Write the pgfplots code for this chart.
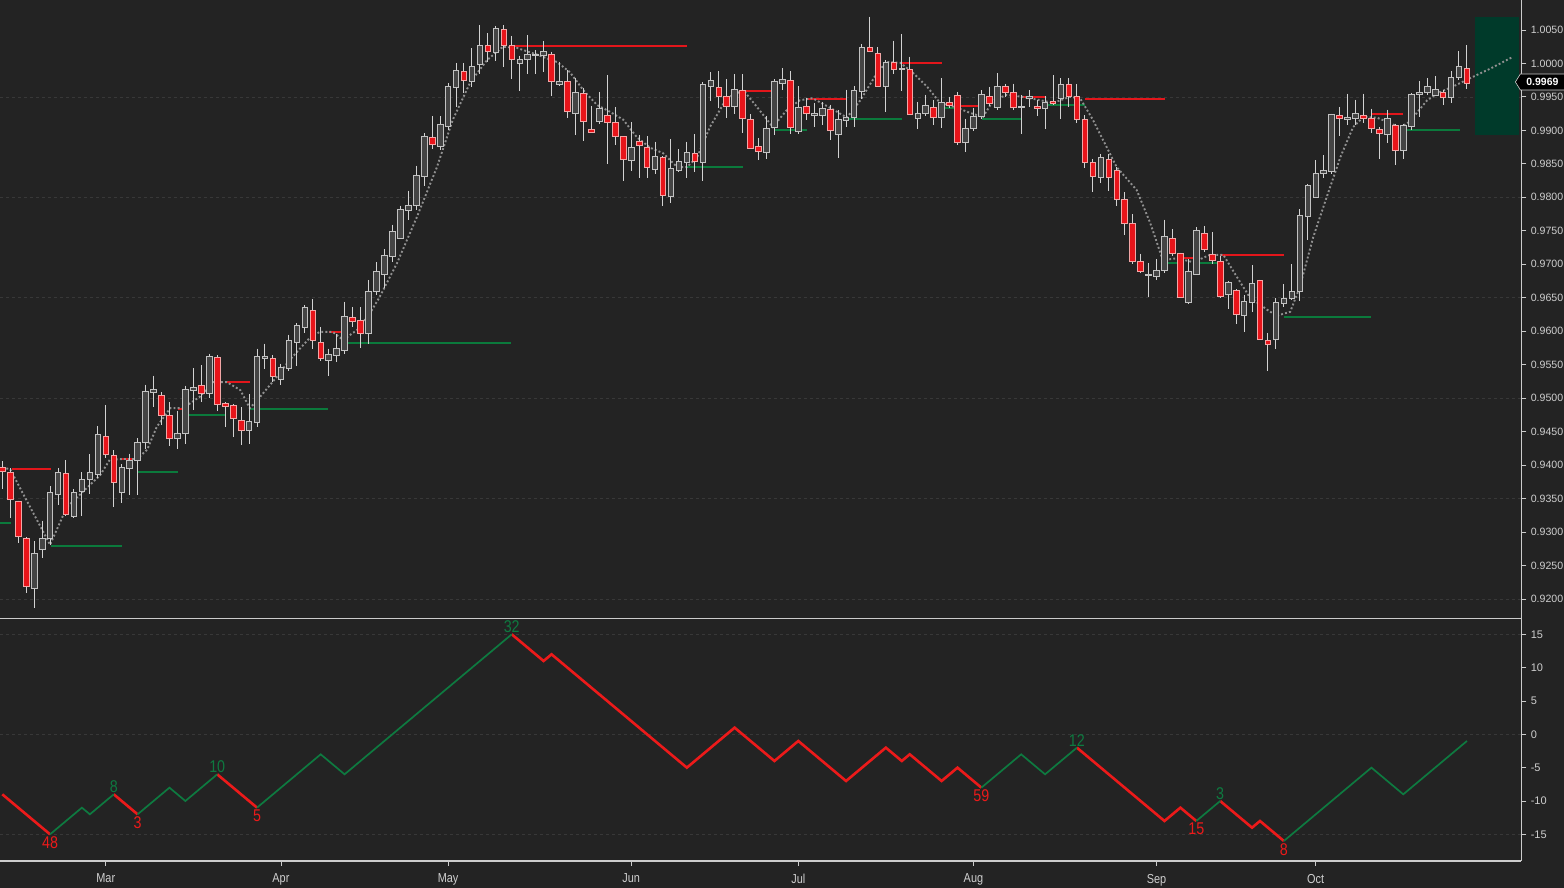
\documentclass[border=0pt]{standalone}
\usepackage{fontspec}
\setmainfont{Liberation Sans}
\newfontfamily\narrowfont[FakeStretch=0.84]{Liberation Sans}
\usepackage{pgfplots}
\usepackage{pgfplotstable}
\pgfplotsset{compat=1.18}
\usetikzlibrary{shapes.symbols}

\definecolor{BG}{HTML}{232323}
\definecolor{GridGrey}{HTML}{383838}
\definecolor{AxisGrey}{HTML}{CCCCCC}
\definecolor{TickGrey}{HTML}{CFCFCF}
\definecolor{WickGrey}{HTML}{D2D2D2}
\definecolor{UpFill}{HTML}{444444}
\definecolor{UpEdge}{HTML}{C2C2C2}
\definecolor{DnFill}{HTML}{E8141A}
\definecolor{DnEdge}{HTML}{F2A6A6}
\definecolor{ResRed}{HTML}{E3161B}
\definecolor{SupGreen}{HTML}{0B7A3C}
\definecolor{DotGrey}{HTML}{909090}
\definecolor{BoxGreen}{HTML}{003A2A}
\definecolor{ZzRed}{HTML}{EC1A1A}
\definecolor{ZzGreen}{HTML}{0E7A40}

\pgfdeclareplotmark{nothing}{}

% daily candles: index, open, high, low, close
\pgfplotstableread{
i o h l c
0 0.9396 0.9406 0.93635 0.9391
1 0.93885 0.9395 0.9321 0.93485
2 0.9345 0.9347 0.92835 0.92935
3 0.9291 0.9292 0.92085 0.92185
4 0.9216 0.9286 0.9186 0.92685
5 0.92735 0.9317 0.9261 0.929
6 0.929 0.93685 0.9281 0.93585
7 0.9356 0.9395 0.9341 0.93885
8 0.9387 0.94075 0.93235 0.9327
9 0.93235 0.93635 0.9321 0.93585
10 0.9361 0.93895 0.93235 0.93785
11 0.93785 0.9416 0.9357 0.93885
12 0.9386 0.94585 0.9381 0.9445
13 0.94425 0.949 0.9411 0.9416
14 0.94145 0.9422 0.93375 0.93735
15 0.93585 0.9401 0.93435 0.9397
16 0.9395 0.9417 0.9356 0.9407
17 0.9407 0.944 0.9356 0.9434
18 0.9434 0.952 0.94235 0.951
19 0.95085 0.95335 0.94875 0.95135
20 0.95045 0.95085 0.94595 0.9475
21 0.94745 0.94935 0.94285 0.944
22 0.944 0.9481 0.94235 0.94475
23 0.94475 0.95185 0.9432 0.95135
24 0.95115 0.9545 0.94815 0.95165
25 0.9519 0.9549 0.9494 0.95065
26 0.95065 0.95665 0.95 0.9563
27 0.95615 0.9564 0.94815 0.94915
28 0.9492 0.9494 0.94565 0.9488
29 0.9489 0.94915 0.94415 0.9469
30 0.94665 0.94865 0.943 0.94515
31 0.94515 0.95065 0.94315 0.94655
32 0.9463 0.9574 0.94565 0.9563
33 0.956 0.95815 0.9544 0.95625
34 0.956 0.9564 0.9524 0.95325
35 0.9528 0.95515 0.9519 0.95455
36 0.9544 0.9595 0.954 0.95865
37 0.9583 0.96115 0.9548 0.9608
38 0.96055 0.9639 0.95965 0.9635
39 0.96315 0.9648 0.9574 0.95865
40 0.95825 0.96065 0.9555 0.9559
41 0.95565 0.9574 0.95325 0.95655
42 0.9564 0.95965 0.9554 0.9575
43 0.95715 0.9644 0.95665 0.96215
44 0.962 0.96365 0.96065 0.9615
45 0.96165 0.96365 0.9575 0.95965
46 0.95965 0.96765 0.95815 0.966
47 0.966 0.9703 0.9654 0.969
48 0.9685 0.97225 0.9665 0.97125
49 0.97115 0.9759 0.9704 0.97485
50 0.9739 0.97875 0.9737 0.97825
51 0.9781 0.981 0.97665 0.97885
52 0.97885 0.98475 0.97815 0.98325
53 0.98315 0.9896 0.98165 0.9891
54 0.9889 0.9921 0.98715 0.98785
55 0.98765 0.9921 0.987 0.9909
56 0.99065 0.9971 0.99 0.9966
57 0.99635 1.0001 0.9935 0.999
58 0.99885 1.0001 0.9956 0.9974
59 0.99725 1.00225 0.9965 0.9996
60 0.9999 1.00575 0.9984 1.00275
61 1.00275 1.0045 1.00025 1.00175
62 1.00165 1.0056 1.00035 1.00515
63 1.0051 1.00575 0.9995 1.00265
64 1.00265 1.0041 0.99765 1.0006
65 1.0 1.00115 0.9959 1.00065
66 1.0006 1.00425 0.9984 1.0014
67 1.0013 1.002 0.9984 1.0014
68 1.00115 1.00335 0.99875 1.00175
69 1.0014 1.00175 0.99515 0.99725
70 0.99685 1.00025 0.9966 0.99735
71 0.99735 0.999 0.99185 0.99275
72 0.9925 0.99775 0.9893 0.99575
73 0.99555 0.9964 0.9884 0.9913
74 0.99015 0.99365 0.9896 0.98965
75 0.9914 0.99575 0.991 0.9933
76 0.9923 0.9983 0.985 0.99115
77 0.99125 0.9935 0.9878 0.98905
78 0.98905 0.98915 0.9824 0.98565
79 0.9855 0.99125 0.984 0.9875
80 0.9884 0.98925 0.9829 0.98775
81 0.9874 0.98915 0.9829 0.9844
82 0.98415 0.9883 0.9835 0.9861
83 0.986 0.98615 0.97875 0.9803
84 0.98015 0.98865 0.97915 0.9843
85 0.984 0.98715 0.98375 0.9853
86 0.98515 0.9883 0.9829 0.98675
87 0.98655 0.9894 0.9838 0.9854
88 0.98515 0.99715 0.9825 0.9969
89 0.99655 0.99875 0.9944 0.9974
90 0.9964 0.9989 0.9934 0.99505
91 0.99505 0.99765 0.9918 0.99365
92 0.99355 0.9984 0.9925 0.99615
93 0.9959 0.9984 0.98965 0.99175
94 0.99165 0.9924 0.9872 0.9873
95 0.98755 0.9888 0.9855 0.9869
96 0.98665 0.99215 0.9858 0.9903
97 0.9905 0.9976 0.98925 0.99725
98 0.997 0.99925 0.996 0.9976
99 0.9975 0.99885 0.9894 0.9904
100 0.9899 0.9966 0.9894 0.9935
101 0.9935 0.99485 0.9915 0.9925
102 0.9923 0.9941 0.9905 0.9925
103 0.99225 0.99425 0.99075 0.99325
104 0.99315 0.99385 0.9885 0.99
105 0.98935 0.993 0.9859 0.9916
106 0.9915 0.9961 0.9905 0.9919
107 0.9919 0.9966 0.9905 0.996
108 0.9959 1.00285 0.99475 1.0024
109 1.00235 1.007 1.00165 1.00175
110 1.0015 1.0024 0.9964 0.9966
111 0.9965 1.0005 0.99275 1.00015
112 1.00015 1.0034 0.99835 0.9991
113 0.9991 1.0044 0.99585 0.99925
114 0.9991 1.001 0.99225 0.99235
115 0.99175 0.99425 0.99025 0.9925
116 0.9925 0.99535 0.9921 0.99375
117 0.9935 0.9945 0.99075 0.9919
118 0.9919 0.99775 0.9904 0.99415
119 0.99415 0.995 0.9934 0.99365
120 0.99515 0.99575 0.98785 0.98825
121 0.98825 0.99175 0.98675 0.99025
122 0.99025 0.9934 0.9899 0.9921
123 0.9921 0.996 0.99175 0.99535
124 0.99515 0.9965 0.9936 0.994
125 0.9935 0.9985 0.9931 0.9966
126 0.9966 0.9969 0.995 0.99575
127 0.9956 0.997 0.993 0.9934
128 0.9934 0.99525 0.9895 0.99365
129 0.99485 0.996 0.9935 0.9951
130 0.9936 0.9946 0.9921 0.99325
131 0.99325 0.9951 0.99025 0.99425
132 0.99435 0.99825 0.99375 0.994
133 0.99475 0.99775 0.99175 0.9969
134 0.9969 0.99775 0.9935 0.9951
135 0.9951 0.9969 0.9911 0.9916
136 0.9916 0.99225 0.9844 0.98515
137 0.98515 0.98575 0.98075 0.98315
138 0.983 0.9865 0.9821 0.9859
139 0.9856 0.9865 0.981 0.983
140 0.984 0.9845 0.97875 0.97975
141 0.97975 0.98075 0.9744 0.9761
142 0.97615 0.9775 0.9701 0.9704
143 0.9704 0.9716 0.96865 0.969
144 0.96835 0.97015 0.9651 0.9685
145 0.96815 0.97075 0.9677 0.96915
146 0.96915 0.97665 0.96875 0.97415
147 0.97385 0.97525 0.97125 0.97165
148 0.97165 0.97175 0.9649 0.9651
149 0.96435 0.97075 0.964 0.96885
150 0.9685 0.9755 0.96835 0.975
151 0.9746 0.97575 0.9719 0.97225
152 0.9715 0.97485 0.97 0.9706
153 0.9704 0.97125 0.9649 0.96525
154 0.9655 0.9675 0.96335 0.96735
155 0.9661 0.96625 0.9611 0.9625
156 0.96235 0.9654 0.9599 0.9645
157 0.96435 0.96985 0.96285 0.96715
158 0.9676 0.9677 0.9587 0.95875
159 0.9586 0.95975 0.954 0.958
160 0.95885 0.9649 0.95735 0.96425
161 0.96415 0.967 0.9636 0.9649
162 0.9649 0.97 0.9646 0.9659
163 0.9659 0.97825 0.9645 0.97725
164 0.97715 0.982 0.9736 0.98175
165 0.98 0.9855 0.9799 0.9835
166 0.9835 0.98625 0.98285 0.984
167 0.98385 0.9925 0.9835 0.9924
168 0.9923 0.9935 0.9891 0.99185
169 0.99175 0.9955 0.99075 0.9919
170 0.99175 0.9946 0.99075 0.9925
171 0.99225 0.9955 0.9911 0.99185
172 0.99185 0.99325 0.9896 0.99025
173 0.9901 0.9905 0.98575 0.9895
174 0.98935 0.9931 0.98815 0.99175
175 0.99075 0.991 0.98485 0.987
176 0.987 0.991 0.98575 0.99075
177 0.9906 0.9956 0.99 0.99535
178 0.99535 0.9974 0.992 0.99565
179 0.99565 0.99775 0.99525 0.9965
180 0.99525 0.9981 0.9951 0.9961
181 0.99575 0.996 0.99375 0.9949
182 0.9949 0.99885 0.9941 0.9979
183 0.9979 1.00185 0.9975 0.9995
184 0.99925 1.00275 0.99625 0.99695
}\ohlc

% dotted swing curve
\pgfplotstableread{
i p
0 0.9396
0.97 0.9394
6.0 0.9281
8.1 0.9337
12.3 0.9385
13.5 0.9408
15.2 0.9409
16.9 0.9409
18.2 0.9423
19.4 0.9457
21.1 0.9485
22.7 0.9485
24.8 0.9502
26.5 0.9524
28.2 0.9524
29.9 0.9512
31.1 0.9485
32.4 0.9502
34.5 0.9532
36.1 0.9557
38.7 0.9591
39.9 0.9599
41.5 0.9599
42.8 0.9587
44.6 0.9602
46.2 0.9627
47.4 0.9651
49.6 0.9702
52.1 0.9771
54.6 0.9845
56.6 0.9916
58.8 0.9972
60.9 1.0005
62.9 1.0025
64.7 1.0023
67.2 1.0013
69.7 1.0002
71.3 0.9987
73.0 0.9960
74.7 0.9938
76.3 0.9928
78.0 0.9916
79.7 0.9890
81.4 0.9874
83.0 0.9866
84.8 0.9845
86.0 0.9845
87.3 0.9860
88.9 0.9905
91.0 0.9948
93.1 0.9960
94.8 0.9935
96.8 0.9905
98.6 0.9931
100.2 0.9945
101.8 0.9948
104.4 0.9931
106.1 0.9919
107.8 0.9945
109.9 0.9986
111.1 1.0002
112.8 1.0001
114.4 0.9986
116.2 0.9965
117.8 0.9941
119.9 0.9934
121.6 0.9926
123.2 0.9920
124.5 0.9945
126.2 0.9953
128.2 0.9950
130.4 0.9945
132.0 0.9941
134.1 0.9950
135.4 0.9948
137.0 0.9916
140.0 0.9845
142.5 0.9811
144.2 0.9762
145.8 0.9706
147.6 0.9709
149.6 0.9703
151.7 0.9714
153.4 0.9714
155.1 0.9681
156.7 0.9651
158.9 0.9632
160.1 0.9623
161.8 0.9629
163.0 0.9666
164.7 0.9741
166.4 0.9801
168.1 0.9860
169.7 0.9905
171.0 0.9920
172.7 0.9919
174.3 0.9911
175.6 0.9904
176.8 0.9913
179.0 0.9945
180.6 0.9957
182.7 0.9968
184.4 0.9978
186.9 0.9992
189.8 1.0010
}\swing

\begin{document}
\begin{tikzpicture}
\useasboundingbox (0pt,0pt) rectangle (1564pt,888pt);
\fill[BG] (0pt,0pt) rectangle (1564pt,888pt);
\clip (0pt,0pt) rectangle (1564pt,888pt);

% ---------- price panel ----------
\begin{axis}[
  at={(0pt,269.7pt)}, anchor=south west,
  x=7.96pt, y=6694pt,
  xmin=-0.289, xmax=190.85,
  ymin=0.91711, ymax=1.00948,
  axis x line*=bottom, axis y line*=right,
  axis line style={-, AxisGrey, line width=1.3pt},
  xtick=\empty,
  ytick={0.92,0.925,0.93,0.935,0.94,0.945,0.95,0.955,0.96,0.965,0.97,0.975,0.98,0.985,0.99,0.995,1.0,1.005},
  scaled y ticks=false,
  /pgf/number format/assume math mode=true,
  yticklabel={\pgfmathprintnumber[fixed,fixed zerofill,precision=4]{\tick}},
  yticklabel style={font=\fontsize{10.6}{12}\selectfont, text=TickGrey, anchor=west, xshift=0.8pt},
  tick align=outside, major tick length=5pt,
  tick style={AxisGrey, line width=0.8pt},
  extra y ticks={0.92,0.935,0.95,0.965,0.98,0.995},
  extra y tick labels={},
  extra y tick style={grid=major, major tick length=0pt},
  major grid style={GridGrey, dash pattern=on 3pt off 3pt, line width=0.7pt},
  clip=false,
]
\addplot[fill=BoxGreen, draw=none] coordinates {(185.0,1.00699) (190.6,1.00699) (190.6,0.98931) (185.0,0.98931)} -- cycle;

\addplot[scatter, only marks, mark=nothing,
  visualization depends on={\thisrow{o} \as \op},
  visualization depends on={\thisrow{h} \as \hi},
  visualization depends on={\thisrow{l} \as \lo},
  visualization depends on={\thisrow{c} \as \cl},
  scatter/@pre marker code/.code={%
    \pgfmathsetmacro\wl{(\hi-\lo)*6694}%
    \pgfmathsetmacro\bt{(\hi-max(\op,\cl))*6694}%
    \pgfmathsetmacro\bb{max((\hi-min(\op,\cl))*6694,\bt+1.4)}%
    \draw[WickGrey, line width=1pt] (0pt,0pt) -- (0pt,-\wl pt);
    \ifdim\op pt>\cl pt
      \filldraw[fill=DnFill, draw=DnEdge, line width=0.8pt] (-2.8pt,-\bt pt) rectangle (2.8pt,-\bb pt);
    \else
      \filldraw[fill=UpFill, draw=UpEdge, line width=0.8pt] (-2.8pt,-\bt pt) rectangle (2.8pt,-\bb pt);
    \fi
  },
  scatter/@post marker code/.code={},
] table[x=i, y=h] {\ohlc};

% resistance levels
\addplot[ResRed, line width=2pt, unbounded coords=jump] coordinates {
 (1.2,0.93945)(6.1,0.93945)(6.1,nan)
 (15,0.94091)(17,0.94091)(17,nan)
 (22.1,0.94838)(23,0.94838)(23,nan)
 (28.1,0.95246)(31.1,0.95246)(31.1,nan)
 (41,0.95993)(43,0.95993)(43,nan)
 (64,1.00265)(86,1.00265)(86,nan)
 (93,0.99593)(97.1,0.99593)(97.1,nan)
 (101.2,0.99465)(106.1,0.99465)(106.1,nan)
 (113,1.00002)(118,1.00002)(118,nan)
 (120.1,0.99369)(123.1,0.99369)(123.1,nan)
 (128.2,0.99504)(131,0.99504)(131,nan)
 (136,0.99469)(146.1,0.99469)(146.1,nan)
 (148,0.97089)(150.1,0.97089)(150.1,nan)
 (153,0.97139)(161,0.97139)(161,nan)
 (172,0.99245)(176,0.99245)};
% support levels
\addplot[SupGreen, line width=2pt, unbounded coords=jump] coordinates {
 (-0.3,0.93135)(1.1,0.93135)(1.1,nan)
 (6.1,0.92796)(15,0.92796)(15,nan)
 (17,0.93902)(22.1,0.93902)(22.1,nan)
 (23,0.94753)(28.1,0.94753)(28.1,nan)
 (31.1,0.94843)(40.9,0.94843)(40.9,nan)
 (43,0.95824)(63.9,0.95824)(63.9,nan)
 (86,0.98458)(93,0.98458)(93,nan)
 (97.1,0.99006)(101.1,0.99006)(101.1,nan)
 (106.1,0.99175)(113,0.99175)(113,nan)
 (118,0.99339)(120.1,0.99339)(120.1,nan)
 (123.1,0.99175)(128.1,0.99175)(128.1,nan)
 (131.2,0.9938)(136,0.9938)(136,nan)
 (146.1,0.97024)(148,0.97024)(148,nan)
 (150.1,0.97024)(153,0.97024)(153,nan)
 (161,0.96217)(172,0.96217)(172,nan)
 (176,0.99)(183.1,0.99)};

\addplot[DotGrey, line width=1.9pt, dash pattern=on 1.9pt off 2.2pt] table[x=i, y=p] {\swing};

\node[signal, signal to=west, signal pointer angle=116, fill=black, draw=AxisGrey,
  line width=0.6pt, text=white, font=\bfseries\fontsize{10.5}{11}\selectfont,
  inner xsep=6pt, inner ysep=2pt, minimum height=16pt, anchor=west]
  at (axis cs:190.04,0.99723) {0.9969};
\end{axis}

% ---------- swing counter panel ----------
\begin{axis}[
  at={(0pt,27pt)}, anchor=south west,
  x=7.96pt, y=6.667pt,
  xmin=-0.289, xmax=190.85,
  ymin=-19.0, ymax=17.4,
  axis x line*=bottom, axis y line*=right,
  axis line style={-, AxisGrey, line width=1.3pt},
  xtick={13,35,56,79,100,122,145,165},
  xticklabels={Mar,Apr,May,Jun,Jul,Aug,Sep,Oct},
  xticklabel style={font=\narrowfont\fontsize{13}{14}\selectfont, text=TickGrey, yshift=-4.5pt},
  ytick={-15,-10,-5,0,5,10,15},
  /pgf/number format/assume math mode=true,
  yticklabel style={font=\fontsize{11}{13}\selectfont, text=TickGrey, anchor=west, xshift=0.8pt},
  tick align=outside, major tick length=5pt,
  tick style={AxisGrey, line width=0.8pt},
  extra y ticks={-15,0,15},
  extra y tick labels={},
  extra y tick style={grid=major, major tick length=0pt},
  major grid style={GridGrey, dash pattern=on 3pt off 3pt, line width=0.7pt},
  clip=false,
]
\addplot[ZzRed, line width=2.6pt, unbounded coords=jump] coordinates {
 (0,-9)(6,-15)(6,nan)
 (14,-9)(17,-12)(17,nan)
 (27,-6)(32,-11)(32,nan)
 (64,15)(68,11)(69,12)(86,-5)(92,1)(97,-4)(100,-1)(106,-7)(111,-2)(113,-4)(114,-3)(118,-7)(120,-5)(123,-8)(123,nan)
 (135,-2)(146,-13)(148,-11)(150,-13)(150,nan)
 (153,-10)(157,-14)(158,-13)(161,-16)};
\addplot[ZzGreen, line width=1.7pt, unbounded coords=jump] coordinates {
 (6,-15)(10,-11)(11,-12)(14,-9)(14,nan)
 (17,-12)(21,-8)(23,-10)(27,-6)(27,nan)
 (32,-11)(40,-3)(43,-6)(64,15)(64,nan)
 (123,-8)(128,-3)(131,-6)(135,-2)(135,nan)
 (150,-13)(153,-10)(153,nan)
 (161,-16)(172,-5)(176,-9)(184,-1)};

\tikzset{zzlab/.style={font=\narrowfont\fontsize{17}{17}\selectfont, inner sep=0pt}}
\node[zzlab, text=ZzRed, anchor=north, yshift=-2pt] at (axis cs:6,-15) {48};
\node[zzlab, text=ZzGreen, anchor=south, yshift=1pt] at (axis cs:14,-9) {8};
\node[zzlab, text=ZzRed, anchor=north, yshift=-2pt] at (axis cs:17,-12) {3};
\node[zzlab, text=ZzGreen, anchor=south, yshift=1pt] at (axis cs:27,-6) {10};
\node[zzlab, text=ZzRed, anchor=north, yshift=-2pt] at (axis cs:32,-11) {5};
\node[zzlab, text=ZzGreen, anchor=south, yshift=1pt] at (axis cs:64,15) {32};
\node[zzlab, text=ZzRed, anchor=north, yshift=-2pt] at (axis cs:123,-8) {59};
\node[zzlab, text=ZzGreen, anchor=south, yshift=1pt] at (axis cs:135,-2) {12};
\node[zzlab, text=ZzRed, anchor=north, yshift=-2pt] at (axis cs:150,-13) {15};
\node[zzlab, text=ZzGreen, anchor=south, yshift=1pt] at (axis cs:153,-10) {3};
\node[zzlab, text=ZzRed, anchor=north, yshift=-2pt] at (axis cs:161,-16) {8};
\end{axis}
\end{tikzpicture}
\end{document}
